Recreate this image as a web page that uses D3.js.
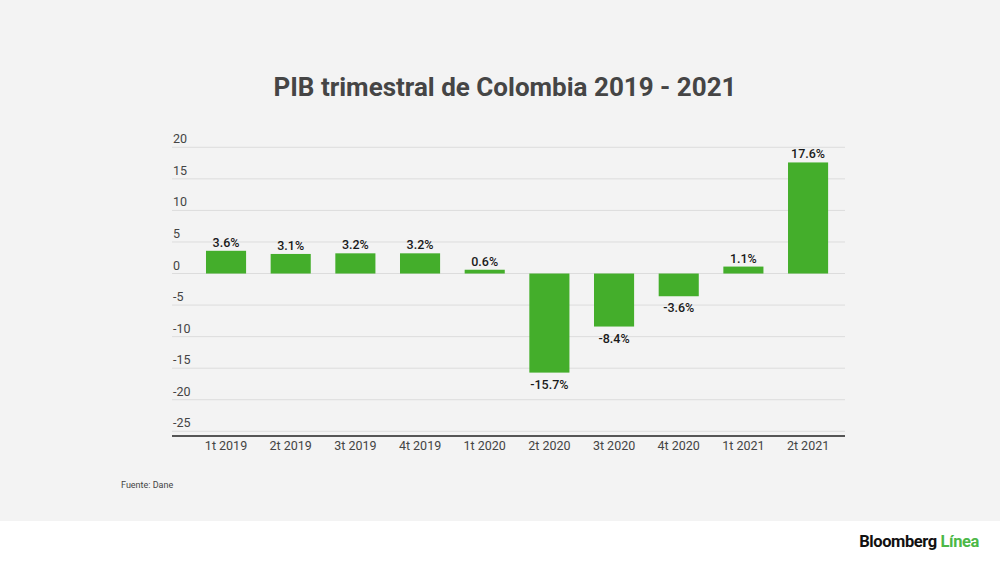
<!DOCTYPE html>
<html><head><meta charset="utf-8">
<script src="https://cdn.jsdelivr.net/npm/d3@7"></script>
<style>
html,body{margin:0;padding:0;background:#fff;}
svg{display:block;font-family:Roboto, "Noto Sans", sans-serif;}
</style></head>
<body>
<svg id="c" width="1000" height="562"></svg>
<script>
const categories = ["1t 2019","2t 2019","3t 2019","4t 2019","1t 2020","2t 2020","3t 2020","4t 2020","1t 2021","2t 2021"];
const values = [3.6, 3.1, 3.2, 3.2, 0.6, -15.7, -8.4, -3.6, 1.1, 17.6];
const yTicks = [20, 15, 10, 5, 0, -5, -10, -15, -20, -25];

const svg = d3.select("#c");
svg.append("rect").attr("x",0).attr("y",0).attr("width",1000).attr("height",521).attr("fill","#f3f3f3");

svg.append("text").attr("x",505).attr("y",96).attr("text-anchor","middle")
  .attr("font-size",26).attr("font-weight","bold").attr("fill","#454545")
  .text("PIB trimestral de Colombia 2019 - 2021");

const y = d3.scaleLinear().domain([-25, 20]).range([431.3, 147.3]);
const x = d3.scaleBand().domain(categories).range([193.7, 840.4]).paddingInner(0.38).paddingOuter(0.19);
const gridL = 172, gridR = 845;

const grid = svg.append("g");
grid.selectAll("line").data(yTicks).join("line")
  .attr("x1",gridL).attr("x2",gridR)
  .attr("y1",d=>y(d)).attr("y2",d=>y(d))
  .attr("stroke","#dcdcdc").attr("stroke-width",1);
grid.selectAll("text").data(yTicks).join("text")
  .attr("x",173).attr("y",d=>y(d)-4)
  .attr("font-size",12.5).attr("fill","#444")
  .text(d=>d);

svg.append("g").selectAll("rect").data(values).join("rect")
  .attr("x",(d,i)=>x(categories[i]))
  .attr("width",x.bandwidth())
  .attr("y",d=>y(Math.max(0,d)))
  .attr("height",d=>Math.abs(y(d)-y(0)))
  .attr("fill","#44ae2b");

svg.append("g").selectAll("text").data(values).join("text")
  .attr("x",(d,i)=>x(categories[i])+x.bandwidth()/2)
  .attr("y",d=> d>=0 ? y(d)-4 : y(d)+16)
  .attr("text-anchor","middle").attr("font-size",12.5).attr("font-weight",500).attr("fill","#1a1a1a")
  .text(d=>d.toFixed(1)+"%");

svg.append("line").attr("x1",gridL).attr("x2",gridR).attr("y1",436).attr("y2",436)
  .attr("stroke","#555").attr("stroke-width",2);

svg.append("g").selectAll("text").data(categories).join("text")
  .attr("x",d=>x(d)+x.bandwidth()/2).attr("y",450)
  .attr("text-anchor","middle").attr("font-size",12.5).attr("fill","#444")
  .text(d=>d);

svg.append("text").attr("x",121).attr("y",488).attr("font-size",9).attr("fill","#444").text("Fuente: Dane");

const brand = svg.append("text").attr("x",979).attr("y",547).attr("text-anchor","end")
  .attr("font-size",16.5).attr("font-weight","bold").attr("letter-spacing",-0.4);
brand.append("tspan").attr("fill","#111").text("Bloomberg ");
brand.append("tspan").attr("fill","#4cb847").text("Línea");
</script>
</body></html>
